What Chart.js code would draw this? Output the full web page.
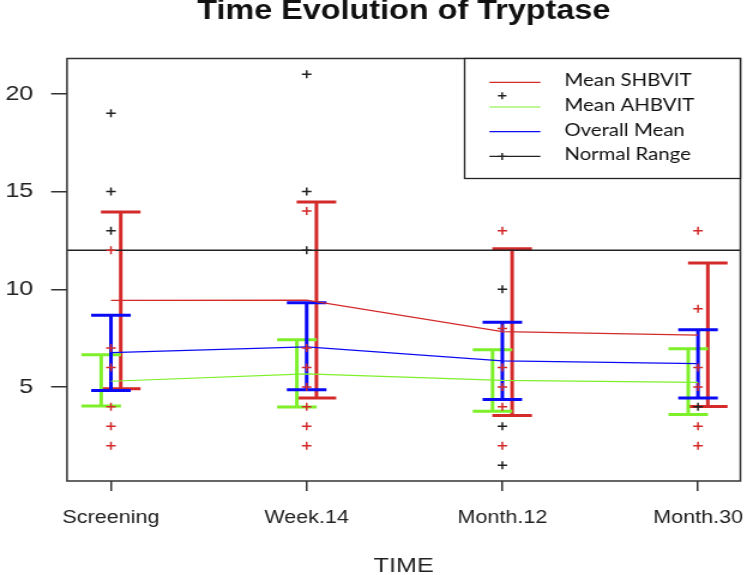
<!DOCTYPE html>
<html>
<head>
<meta charset="utf-8">
<title>Time Evolution of Tryptase</title>
<script src="https://cdn.jsdelivr.net/npm/chart.js@4"></script>
<style>
  html, body { margin: 0; padding: 0; background: #fff; overflow: hidden; }
  /* the reference is a stretched R plot, so the whole canvas is widened */
  #wrap { width: 623px; height: 575px; transform: scaleX(1.199); transform-origin: 0 0; }
  canvas { display: block; }
</style>
</head>
<body>
<div id="wrap"><canvas id="tryptaseChart" width="623" height="575" style="width:623px;height:575px"></canvas></div>
<script>
// categories and ticks
const timePoints = ['Screening', 'Week.14', 'Month.12', 'Month.30'];
const yTickValues = [5, 10, 15, 20];
const normalRangeUpper = 12;

// group means and error bar limits
const meanSHBVIT = [9.43, 9.45, 7.84, 7.66];
const lowSHBVIT = [4.92, 4.44, 3.55, 4.01];
const highSHBVIT = [13.95, 14.46, 12.07, 11.34];

const meanAHBVIT = [5.30, 5.68, 5.34, 5.24];
const lowAHBVIT = [4.03, 3.98, 3.77, 3.60];
const highAHBVIT = [6.66, 7.42, 6.91, 6.96];

const meanOverall = [6.76, 7.06, 6.34, 6.20];
const lowOverall = [4.83, 4.87, 4.37, 4.44];
const highOverall = [8.67, 9.31, 8.32, 7.93];

// individual values per time point
const shbvitValues = [[12, 7, 6, 4, 3, 2], [14, 7, 6, 5, 4, 3, 2], [13, 8, 6, 5, 4, 2], [13, 9, 6, 5, 3, 2]];
const otherValues = [[19, 15, 13], [21, 15, 12], [10, 3, 1], [4]];

const RED = '#d42a2a';
const GREEN = '#7ef02a';
const BLUE = '#0a0af5';
const INK = '#222';

const X_MIN = 0.7755;
const X_MAX = 4.2165;

function meanLine(values) {
    return values.map((v, i) => ({x: i + 1, y: v}));
}

function pointCloud(groups) {
    const pts = [];
    groups.forEach((vals, i) => vals.forEach(v => pts.push({x: i + 1, y: v})));
    return pts;
}

const errorGroups = [
    {color: RED, offset: 0.05, low: lowSHBVIT, high: highSHBVIT},
    {color: GREEN, offset: -0.05, low: lowAHBVIT, high: highAHBVIT},
    {color: BLUE, offset: 0, low: lowOverall, high: highOverall}
];

const legendRows = [
    {label: 'Mean SHBVIT', color: RED},
    {label: 'Mean AHBVIT', color: GREEN},
    {label: 'Overall Mean', color: BLUE},
    {label: 'Normal Range', color: INK}
];

function drawCross(ctx, x, y, r) {
    ctx.beginPath();
    ctx.moveTo(x - r, y); ctx.lineTo(x + r, y);
    ctx.moveTo(x, y - r); ctx.lineTo(x, y + r);
    ctx.stroke();
}

// error bars, plot box, titles and legend
const tryptaseExtras = {
    id: 'tryptaseExtras',
    beforeDatasetsDraw(chart) {
        const {ctx, scales: {x, y}} = chart;
        const capHalf = 16.5;
        errorGroups.forEach(g => {
            ctx.save();
            ctx.strokeStyle = g.color;
            ctx.lineWidth = 3;
            timePoints.forEach((t, i) => {
                const px = x.getPixelForValue(i + 1 + g.offset);
                const top = y.getPixelForValue(g.high[i]);
                const bot = y.getPixelForValue(g.low[i]);
                ctx.beginPath();
                ctx.moveTo(px, top); ctx.lineTo(px, bot);
                ctx.moveTo(px - capHalf, top); ctx.lineTo(px + capHalf, top);
                ctx.moveTo(px - capHalf, bot); ctx.lineTo(px + capHalf, bot);
                ctx.stroke();
            });
            ctx.restore();
        });
    },
    afterDraw(chart) {
        const {ctx, chartArea: a} = chart;
        const cx = (a.left + a.right) / 2;
        ctx.save();

        // plot box
        ctx.strokeStyle = '#333';
        ctx.lineWidth = 1.5;
        ctx.strokeRect(a.left, a.top, a.right - a.left, a.bottom - a.top);

        // title and axis title
        ctx.fillStyle = '#111';
        ctx.textAlign = 'center';
        ctx.textBaseline = 'alphabetic';
        ctx.font = 'bold 27px "Liberation Sans", Arial, sans-serif';
        ctx.fillText('Time Evolution of Tryptase', cx, 19);
        ctx.fillStyle = INK;
        ctx.font = '21px "Liberation Sans", Arial, sans-serif';
        ctx.fillText('TIME', cx, 571.5);

        // legend
        const bw = 230, bh = 120;
        const bx = a.right - bw, by = a.top;
        ctx.fillStyle = '#fff';
        ctx.fillRect(bx, by, bw, bh);
        ctx.strokeStyle = '#222';
        ctx.lineWidth = 1.3;
        ctx.strokeRect(bx, by, bw, bh);
        ctx.font = '17px Lato, "Open Sans", sans-serif';
        ctx.textAlign = 'left';
        ctx.textBaseline = 'middle';
        legendRows.forEach((row, i) => {
            const ty = by + 22.3 + i * 24.7;
            ctx.strokeStyle = row.color;
            ctx.lineWidth = 1.2;
            ctx.beginPath();
            ctx.moveTo(bx + 20.7, ty + 1.5);
            ctx.lineTo(bx + 63.2, ty + 1.5);
            ctx.stroke();
            ctx.fillStyle = '#111';
            ctx.fillText(row.label, bx + 83.2, ty);
        });
        ctx.strokeStyle = INK;
        ctx.lineWidth = 1.4;
        drawCross(ctx, bx + 31.3, by + 37.2, 3.5);
        drawCross(ctx, bx + 31.3, by + 22.3 + 3 * 24.7 + 1.5, 3.5);

        ctx.restore();
    }
};

const ctx = document.getElementById('tryptaseChart').getContext('2d');

new Chart(ctx, {
    type: 'scatter',
    data: {
        datasets: [
            {
                label: 'SHBVIT values',
                data: pointCloud(shbvitValues),
                pointStyle: 'cross',
                pointRadius: 4,
                borderColor: RED,
                backgroundColor: RED,
                borderWidth: 1.5
            },
            {
                label: 'Other values',
                data: pointCloud(otherValues),
                pointStyle: 'cross',
                pointRadius: 4,
                borderColor: INK,
                backgroundColor: INK,
                borderWidth: 1.5
            },
            {
                label: 'Mean SHBVIT',
                data: meanLine(meanSHBVIT),
                showLine: true,
                borderColor: RED,
                borderWidth: 1.2,
                pointRadius: 0
            },
            {
                label: 'Mean AHBVIT',
                data: meanLine(meanAHBVIT),
                showLine: true,
                borderColor: GREEN,
                borderWidth: 1.2,
                pointRadius: 0
            },
            {
                label: 'Overall Mean',
                data: meanLine(meanOverall),
                showLine: true,
                borderColor: BLUE,
                borderWidth: 1.2,
                pointRadius: 0
            },
            {
                label: 'Normal Range',
                data: [{x: X_MIN, y: normalRangeUpper}, {x: X_MAX, y: normalRangeUpper}],
                showLine: true,
                borderColor: INK,
                borderWidth: 1.5,
                pointRadius: 0
            }
        ]
    },
    options: {
        responsive: false,
        animation: false,
        layout: {padding: {top: 58.5, right: 4.6, bottom: 0, left: 0}},
        plugins: {
            legend: {display: false},
            title: {display: false},
            tooltip: {enabled: false}
        },
        scales: {
            x: {
                type: 'linear',
                min: X_MIN,
                max: X_MAX,
                afterBuildTicks: scale => { scale.ticks = timePoints.map((t, i) => ({value: i + 1})); },
                afterFit: scale => {
                    scale.height = 94;
                    // let the last label overhang like in R instead of shrinking the plot
                    scale.paddingLeft = 0;
                    scale.paddingRight = 0;
                },
                border: {display: false},
                grid: {display: true, drawOnChartArea: false, drawTicks: true, tickLength: 10, color: '#333', lineWidth: 1.5},
                ticks: {
                    padding: 16,
                    color: INK,
                    font: {family: '"Liberation Sans", Arial, sans-serif', size: 18},
                    maxRotation: 0,
                    autoSkip: false,
                    callback: value => timePoints[value - 1]
                }
            },
            y: {
                min: 0.2,
                max: 21.8,
                afterBuildTicks: scale => { scale.ticks = yTickValues.map(v => ({value: v})); },
                afterFit: scale => {
                    scale.width = 55.9;
                    scale.paddingTop = 0;
                    scale.paddingBottom = 0;
                },
                border: {display: false},
                grid: {display: true, drawOnChartArea: false, drawTicks: true, tickLength: 13.3, color: '#333', lineWidth: 1.5},
                ticks: {
                    padding: 14.8,
                    color: INK,
                    font: {family: '"Liberation Sans", Arial, sans-serif', size: 21}
                }
            }
        }
    },
    plugins: [tryptaseExtras]
});
</script>
</body>
</html>
